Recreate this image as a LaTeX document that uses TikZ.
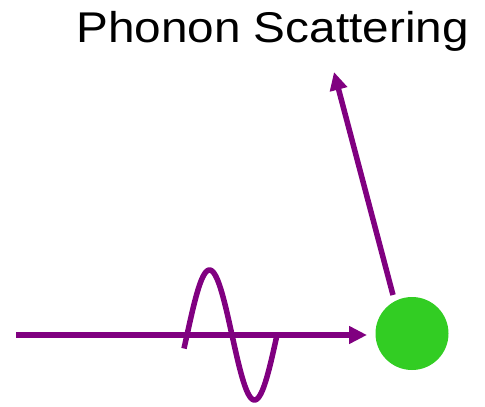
\documentclass[tikz,border=0pt]{standalone}
\usepackage{fontspec}
\setmainfont{Liberation Sans}
\usetikzlibrary{arrows.meta}
\definecolor{wavepurple}{RGB}{128,0,128}
\definecolor{ballgreen}{RGB}{50,205,35}
\tikzset{
  ray/.style={draw=wavepurple, line width=5.5pt, -{Triangle[length=18pt,width=17pt]}},
  wave/.style={draw=wavepurple, line width=5.5pt, line cap=butt},
  ball/.style={circle, fill=ballgreen, minimum size=73pt, inner sep=0pt},
  title/.style={font=\fontsize{43}{50}\selectfont, anchor=base west, inner sep=0pt, xscale=1.11}
}
\begin{document}
\begin{tikzpicture}[x=1pt,y=-1pt]
\useasboundingbox (0,0) rectangle (485,407);
\node[title] (label) at (76,42) {Phonon Scattering};
\node[ball] (atom) at (412,333.5) {};
\coordinate (src) at (16,335);
\coordinate (hit) at (367,335);
\coordinate (s0) at (393,295);
\coordinate (stip) at (334,72);
\draw[ray] (src) -- (hit);
\draw[wave] plot[domain=184:277, samples=90] (\x, {335 - 65*sin(4*(\x-187))});
\draw[ray] (s0) -- (stip);
\end{tikzpicture}
\end{document}
